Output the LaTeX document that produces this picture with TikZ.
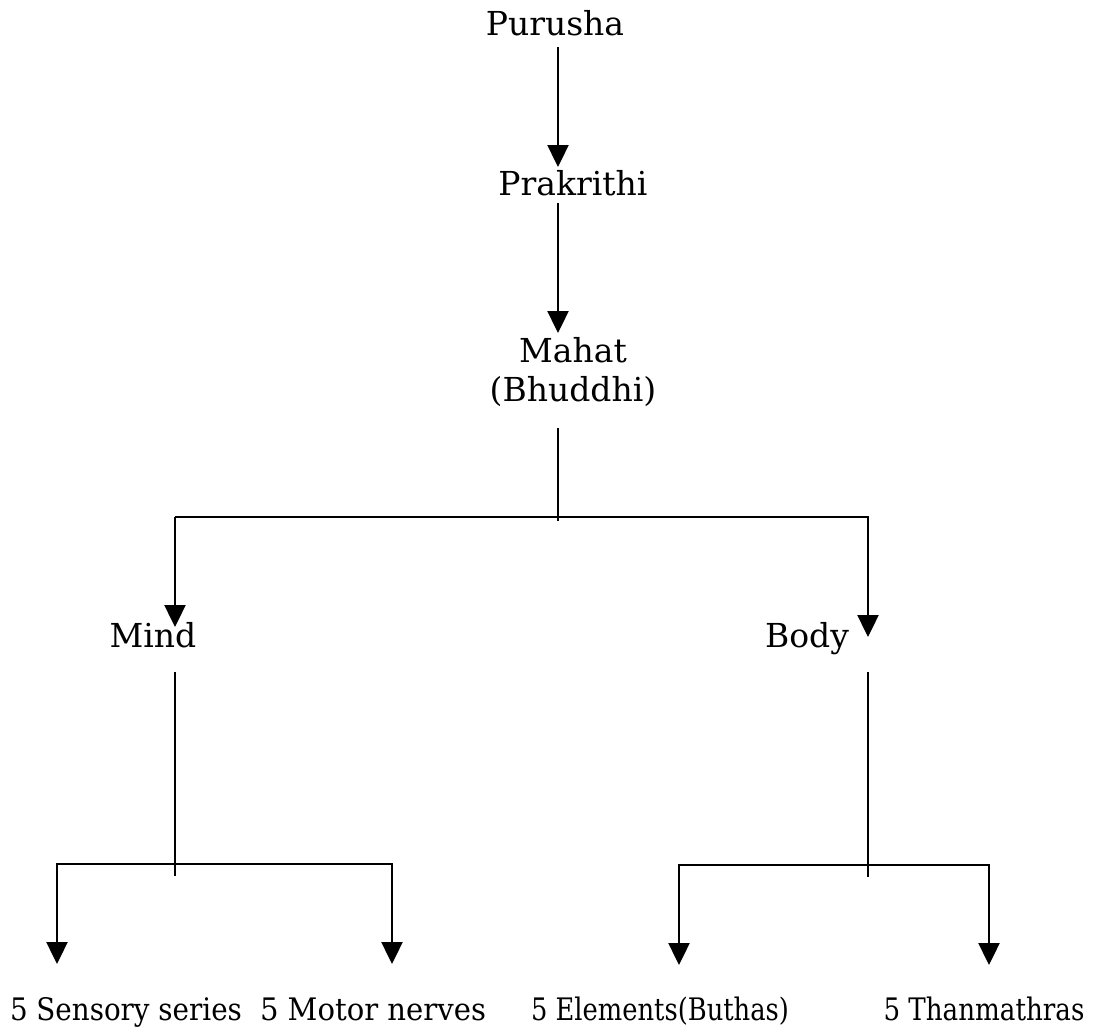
\documentclass[tikz,border=0pt]{standalone}
\usepackage{fontspec}
\setmainfont{DejaVu Serif}
\usetikzlibrary{arrows.meta}
\newcommand{\fitw}[2]{\resizebox{#1}{\height}{#2}}
\begin{document}
\begin{tikzpicture}[x=1pt,y=-1pt,
  lbl/.style={anchor=base,inner sep=0pt,font=\fontsize{33}{38}\selectfont},
  blbl/.style={anchor=base,inner sep=0pt,font=\fontsize{31}{36}\selectfont},
  ln/.style={line width=2.4pt},
  arr/.style={ln,-{Triangle[width=21pt,length=22pt]}}]
\useasboundingbox (0,0) rectangle (1093,1028);
% nodes
\node[lbl] (pur) at (555,35) {Purusha};
\node[lbl] (pra) at (573,195) {Prakrithi};
\node[lbl] (mah) at (573,362) {Mahat};
\node[lbl] (bhu) at (573,401) {(Bhuddhi)};
\node[lbl] (mind) at (153,647) {Mind};
\node[lbl] (body) at (807,647) {Body};
\node[blbl] (sen) at (126,1020) {\fitw{232pt}{5 Sensory series}};
\node[blbl] (mot) at (373,1020) {\fitw{226pt}{5 Motor nerves}};
\node[blbl] (ele) at (660,1020) {\fitw{258pt}{5 Elements(Buthas)}};
\node[blbl] (tha) at (984,1020) {\fitw{201pt}{5 Thanmathras}};
% coordinates
\coordinate (a1s) at (558,47);  \coordinate (a1e) at (558,167);
\coordinate (a2s) at (558,203); \coordinate (a2e) at (558,333);
\coordinate (ms) at (558,428);  \coordinate (me) at (558,521);
\coordinate (hl) at (175,517);  \coordinate (hr) at (868,517);
\coordinate (mindtip) at (175,627); \coordinate (bodytip) at (868,637);
\coordinate (mis) at (175,672); \coordinate (mie) at (175,876);
\coordinate (bos) at (868,672); \coordinate (boe) at (868,877);
\coordinate (l1) at (57,864); \coordinate (l2) at (392,864);
\coordinate (r1) at (679,865); \coordinate (r2) at (989,865);
\coordinate (t1) at (57,964); \coordinate (t2) at (392,964);
\coordinate (t3) at (679,965); \coordinate (t4) at (989,965);
% connectors
\draw[arr] (a1s) -- (a1e);
\draw[arr] (a2s) -- (a2e);
\draw[ln] (ms) -- (me);
\draw[arr] (hl) -- (mindtip);
\draw[arr] (hl) -- (hr) -- (bodytip);
\draw[ln] (mis) -- (mie);
\draw[ln] (bos) -- (boe);
\draw[arr] (l2) -- (l1) -- (t1);
\draw[arr] (l1) -- (l2) -- (t2);
\draw[arr] (r2) -- (r1) -- (t3);
\draw[arr] (r1) -- (r2) -- (t4);
\end{tikzpicture}
\end{document}
